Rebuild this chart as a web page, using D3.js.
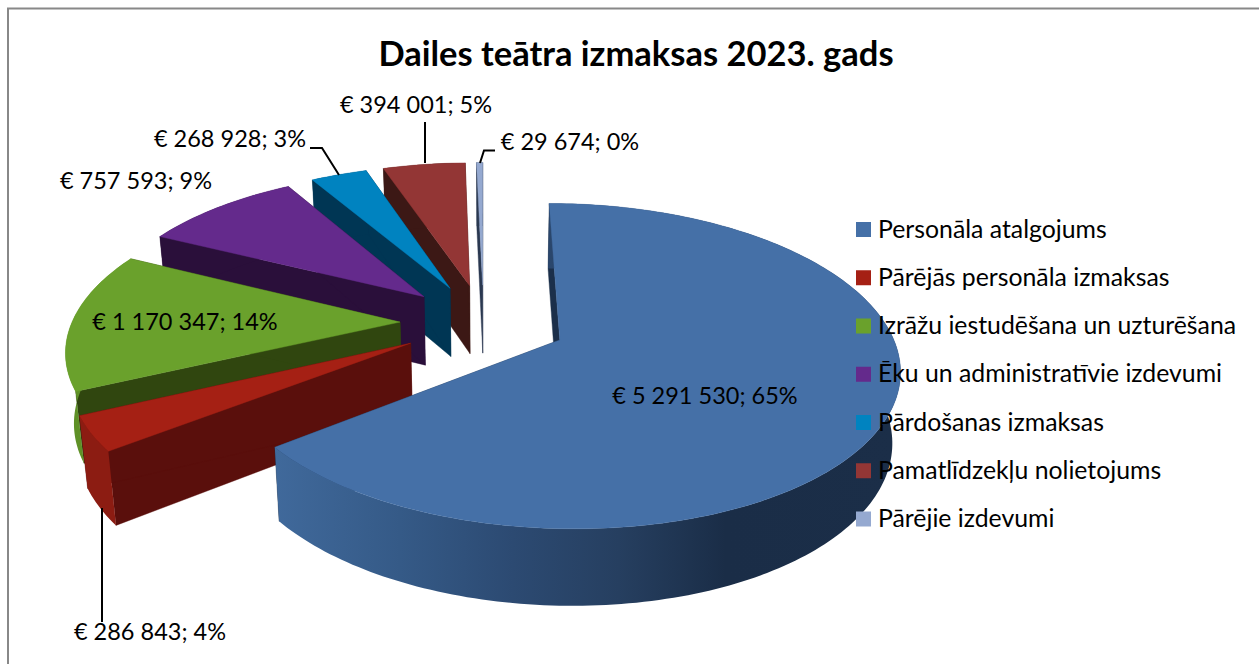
<!DOCTYPE html>
<html><head><meta charset="utf-8">
<script src="https://cdn.jsdelivr.net/npm/d3@7/dist/d3.min.js"></script>
<style>html,body{margin:0;padding:0;background:#fff}svg{display:block}text{font-family:Lato,"Open Sans",sans-serif;fill:#000}</style>
</head><body><svg id="c" width="1259" height="664"></svg>
<script>
const categories=["Personāla atalgojums","Pārējās personāla izmaksas","Izrāžu iestudēšana un uzturēšana","Ēku un administratīvie izdevumi","Pārdošanas izmaksas","Pamatlīdzekļu nolietojums","Pārējie izdevumi"];
const values=[5291530,286843,1170347,757593,268928,394001,29674];
const percents=["65%","4%","14%","9%","3%","5%","0%"];
const valueLabels=["€ 5 291 530","€ 286 843","€ 1 170 347","€ 757 593","€ 268 928","€ 394 001","€ 29 674"];
const title="Dailes teātra izmaksas 2023. gads";
const topColors=["#4570a7","#a52014","#6aa12c","#642a8c","#0083c0","#933635","#95a9d0"];
const innerColors=["#1b2f4a","#5a0f0c","#30460f","#2a0f3a","#003654","#3c1815","#2a3850"];
const outerColors=["url(#bw)","#8c1c12","#5f9127","#2a0f3a","#003654","#3c1815","#2a3850"];
const labelPos=[[705,396],[150,632],[185,322],[136,181],[230,139],[416,105],[570,142]];
const leaders=[null,[[102,508],[102,622]],null,null,[[310,148],[322,148],[339,175]],[[425,122],[425,163]],[[495,150.5],[484,150.5],[480,163]]];

const svg=d3.select("#c");
const P={x0:483.5,cy:322.5,f:83.5,k:38.9,q:0.0402,R:3.93,e:1,vx:490,s:0.98};
function top3(x,y){const w=1-P.q*y;return [P.x0+P.f*x/w,P.cy+P.k*y/w];}
function bot3(x,y){const [X,Y]=top3(x,y);return [P.vx+(X-P.vx)*P.s,Y+68+(Y-285)*0.037];}
const arcs=d3.pie().sort(null).value(d=>d)(values);
const rScale=d3.scaleLinear().domain([0,1]).range([0,P.R]);
const defs=svg.append("defs");
const g=defs.append("linearGradient").attr("id","bw");
[[0,"#40699b"],[.2,"#355a87"],[.38,"#2c4a72"],[.55,"#263f60"],[.72,"#1a2d47"],[1,"#1b2e48"]].forEach(s=>g.append("stop").attr("offset",s[0]).attr("stop-color",s[1]));
const line=d3.line().curve(d3.curveLinear);

function geom(a){
  const mid=(a.startAngle+a.endAngle)/2, ox=P.e*Math.sin(mid), oy=-P.e*Math.cos(mid);
  const pt=(t,r)=>[ox+r*Math.sin(t),oy-r*Math.cos(t)];
  const n=Math.max(4,Math.ceil((a.endAngle-a.startAngle)/0.02));
  const ts=d3.range(n+1).map(i=>a.startAngle+(a.endAngle-a.startAngle)*i/n);
  return {apex:pt(0,0),rim:ts.map(t=>pt(t,rScale(1)))};
}
const proj=(pts,f)=>pts.map(p=>f(p[0],p[1]));
// back slices painted first, the large front slice last
const order=d3.range(values.length).reverse();
order.forEach(i=>{
  const a=arcs[i],G=geom(a),gr=svg.append("g");
  const quad=(p,q,fill)=>gr.append("path").attr("d",line([top3(...p),top3(...q),bot3(...q),bot3(...p)])+"Z").attr("fill",fill).attr("stroke",fill).attr("stroke-width",.4);
  quad(G.apex,G.rim[0],innerColors[i]);
  quad(G.apex,G.rim[G.rim.length-1],innerColors[i]);
  gr.append("path").attr("d",line(proj(G.rim,top3).concat(proj(G.rim,bot3).reverse()))+"Z").attr("fill",outerColors[i]);
  gr.append("path").attr("d",line([top3(...G.apex)].concat(proj(G.rim,top3)))+"Z").attr("fill",topColors[i]).attr("stroke",topColors[i]).attr("stroke-width",.4);
});
// frame
svg.append("path").attr("d","M8,664V8.5H1259").attr("fill","none").attr("stroke","#888").attr("stroke-width",2);
svg.append("text").attr("x",636).attr("y",66).attr("text-anchor","middle").attr("font-size",34.5).attr("font-weight",700).text(title);
// leaders
leaders.forEach(l=>{if(l)svg.append("path").attr("d",line(l)).attr("fill","none").attr("stroke","#000").attr("stroke-width",2);});
// labels
values.forEach((v,i)=>svg.append("text").attr("x",labelPos[i][0]).attr("y",labelPos[i][1]+8).attr("text-anchor","middle").attr("font-size",23.5).text(valueLabels[i]+"; "+percents[i]));
// legend
const ly=d3.scalePoint().domain(categories).range([229.5,519]);
categories.forEach((c,i)=>{
  svg.append("rect").attr("x",856).attr("y",ly(c)-7.5).attr("width",15).attr("height",15).attr("fill",topColors[i]);
  svg.append("text").attr("x",878).attr("y",ly(c)+8).attr("font-size",24.8).text(c);
});
</script></body></html>
